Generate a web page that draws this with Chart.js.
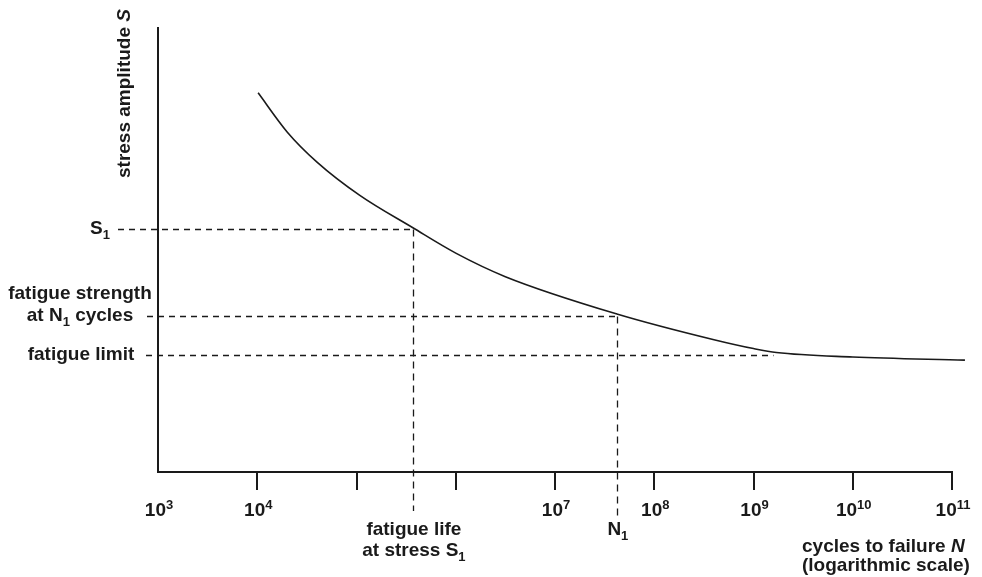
<!DOCTYPE html>
<html>
<head>
<meta charset="utf-8">
<script src="https://cdn.jsdelivr.net/npm/chart.js@4/dist/chart.umd.min.js"></script>
<style>
html, body { margin: 0; padding: 0; background: #fff; }
#wrap { width: 982px; height: 577px; }
</style>
</head>
<body>
<div id="wrap"><canvas id="snChart" width="982" height="577"></canvas></div>
<script>
// S-N curve (cycles on a log axis, stress in arbitrary units 0..100)
var cycles = [1.02e4, 2.0e4, 4.0e4, 1.08e5, 3.7e5, 1.0e6, 3.16e6, 4.2e7, 4.0e8, 1.0e9, 1.7e9, 1.0e10, 1.35e11];
var stress = [85.4, 76.6, 69.8, 62.3, 55.0, 49.3, 44.0, 35.6, 29.8, 27.8, 26.9, 25.9, 25.2];

// marked stress levels and where their dashed lines meet the curve
var levelLabels = [["S_1"], ["fatigue strength", "at N_1 cycles"], ["fatigue limit"]];
var levelStress = [54.8, 35.2, 26.4];
var levelCycles = [3.7e5, 4.2e7, 1.57e9];
var dropLabels = [["fatigue life", "at stress S_1"], ["N_1"], null];

// x axis ticks (powers of ten)
var tickExponents = [4, 5, 6, 7, 8, 9, 10, 11];
var labelExponents = [3, 4, 7, 8, 9, 10, 11];

var yTitle = "stress amplitude *S*";
var xTitle = ["cycles to failure *N*", "(logarithmic scale)"];

var FAMILY = '"Liberation Sans", Arial, Helvetica, sans-serif';
var INK = "#1a1a1a";

// "_1" -> subscript, "^7" -> superscript, "*N*" -> italic
function parts(str) {
    return str.split(/(_\d+|\^\d+|\*[^*]+\*)/).filter(function (s) { return s.length; }).map(function (s) {
        if (s[0] === "_") return {t: s.slice(1), font: "bold 13px " + FAMILY, dy: 5};
        if (s[0] === "^") return {t: s.slice(1), font: "bold 13px " + FAMILY, dy: -7};
        if (s[0] === "*") return {t: s.slice(1, -1), font: "italic bold 19px " + FAMILY, dy: 0};
        return {t: s, font: "bold 19px " + FAMILY, dy: 0};
    });
}

function richText(ctx, str, x, y, align) {
    var p = parts(str), w = 0;
    p.forEach(function (q) { ctx.font = q.font; q.w = ctx.measureText(q.t).width; w += q.w; });
    var cx = align === "center" ? x - w / 2 : (align === "right" ? x - w : x);
    ctx.textAlign = "left";
    ctx.textBaseline = "alphabetic";
    p.forEach(function (q) { ctx.font = q.font; ctx.fillText(q.t, cx, y + q.dy); cx += q.w; });
    return w;
}

var sketchPlugin = {
    id: "sketch",
    beforeDatasetsDraw: function (chart) {
        var ctx = chart.ctx, xs = chart.scales.x, ys = chart.scales.y;
        var dashStart = [118, 147, 146];
        var dropEnd = [511, 517];
        ctx.save();
        ctx.strokeStyle = INK;
        ctx.lineWidth = 1.3;
        for (var i = 0; i < levelStress.length; i++) {
            var py = Math.round(ys.getPixelForValue(levelStress[i])) + 0.5;
            var px = Math.round(xs.getPixelForValue(levelCycles[i])) + 0.5;
            ctx.setLineDash([6, 5]);
            ctx.beginPath();
            ctx.moveTo(dashStart[i], py);
            ctx.lineTo(px, py);
            ctx.stroke();
            if (dropLabels[i]) {
                ctx.setLineDash([7, 5]);
                ctx.beginPath();
                ctx.moveTo(px, py);
                ctx.lineTo(px, dropEnd[i]);
                ctx.stroke();
            }
        }
        ctx.restore();
    },
    afterDraw: function (chart) {
        var ctx = chart.ctx, xs = chart.scales.x, ys = chart.scales.y;
        ctx.save();
        ctx.fillStyle = INK;

        // tick labels with superscripts
        labelExponents.forEach(function (e) {
            richText(ctx, "10^" + e, xs.getPixelForValue(Math.pow(10, e)) + 1, 516, "center");
        });

        // labels of the stress levels, left of the axis
        var anchor = [{x: 110, a: "right"}, {x: 80, a: "center"}, {x: 81, a: "center"}];
        for (var i = 0; i < levelLabels.length; i++) {
            var base = ys.getPixelForValue(levelStress[i]) + 5.5;
            var lines = levelLabels[i];
            for (var k = 0; k < lines.length; k++) {
                richText(ctx, lines[k], anchor[i].x, base - (lines.length - 1 - k) * 22, anchor[i].a);
            }
            if (dropLabels[i]) {
                var px = xs.getPixelForValue(levelCycles[i]);
                dropLabels[i].forEach(function (s, k) {
                    richText(ctx, s, px + 1, 535 + k * 21, "center");
                });
            }
        }

        // axis titles
        richText(ctx, xTitle[0], 802, 552, "left");
        richText(ctx, xTitle[1], 802, 571, "left");
        ctx.translate(130, 178);
        ctx.rotate(-Math.PI / 2);
        richText(ctx, yTitle, 0, 0, "left");
        ctx.restore();
    }
};

function bindFatigueChart() {
    var ctx = document.getElementById("snChart").getContext("2d");
    var points = cycles.map(function (c, i) { return {x: c, y: stress[i]}; });
    new Chart(ctx, {
        type: "line",
        data: {
            datasets: [
                {
                    label: "S-N curve",
                    data: points,
                    borderColor: INK,
                    borderWidth: 1.6,
                    pointRadius: 0,
                    cubicInterpolationMode: "monotone",
                    fill: false,
                    clip: false
                }
            ]
        },
        options: {
            responsive: false,
            animation: false,
            layout: {
                padding: {left: 158, right: 30, top: 28, bottom: 87}
            },
            plugins: {
                legend: {display: false},
                tooltip: {enabled: false}
            },
            scales: {
                x: {
                    type: "logarithmic",
                    min: 1e3,
                    max: 1e11,
                    afterBuildTicks: function (scale) {
                        scale.ticks = tickExponents.map(function (e) { return {value: Math.pow(10, e)}; });
                    },
                    ticks: {display: false},
                    grid: {drawOnChartArea: false, drawTicks: true, tickLength: 18, color: INK, lineWidth: 2},
                    border: {display: true, color: INK, width: 2}
                },
                y: {
                    min: 0,
                    max: 100,
                    ticks: {display: false},
                    grid: {drawOnChartArea: false, drawTicks: false},
                    border: {display: true, color: INK, width: 2}
                }
            }
        },
        plugins: [sketchPlugin]
    });
}

bindFatigueChart();
</script>
</body>
</html>
